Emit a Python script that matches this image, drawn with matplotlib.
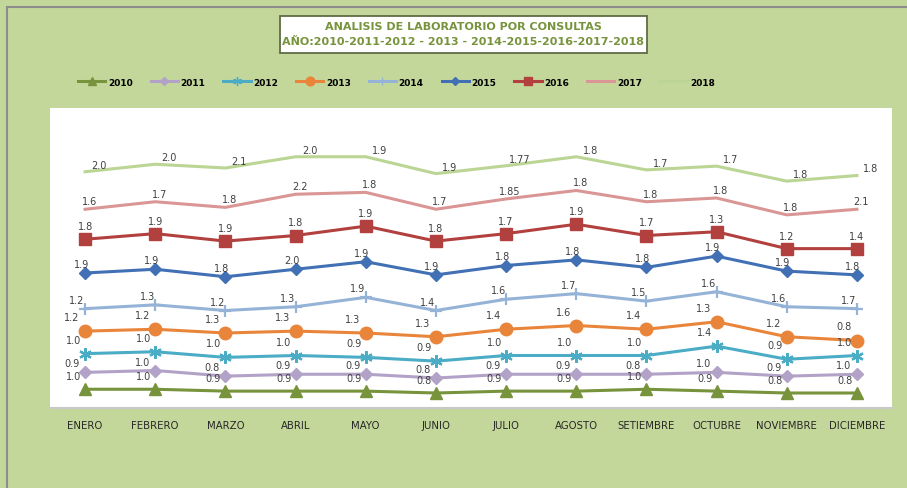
import numpy as np
import matplotlib
matplotlib.use('Agg')
import matplotlib.pyplot as plt
from matplotlib.patches import Rectangle
from matplotlib.lines import Line2D

# categories
months = ['ENERO', 'FEBRERO', 'MARZO', 'ABRIL', 'MAYO', 'JUNIO', 'JULIO',
          'AGOSTO', 'SETIEMBRE', 'OCTUBRE', 'NOVIEMBRE', 'DICIEMBRE']
years = ['2010', '2011', '2012', '2013', '2014', '2015', '2016', '2017', '2018']

# values per year (stacked line chart, labels show each year's own value)
v2010 = [1.0, 1.0, 0.9, 0.9, 0.9, 0.8, 0.9, 0.9, 1.0, 0.9, 0.8, 0.8]
v2011 = [0.9, 1.0, 0.8, 0.9, 0.9, 0.8, 0.9, 0.9, 0.8, 1.0, 0.9, 1.0]
v2012 = [1.0, 1.0, 1.0, 1.0, 0.9, 0.9, 1.0, 1.0, 1.0, 1.4, 0.9, 1.0]
v2013 = [1.2, 1.2, 1.3, 1.3, 1.3, 1.3, 1.4, 1.6, 1.4, 1.3, 1.2, 0.8]
v2014 = [1.2, 1.3, 1.2, 1.3, 1.9, 1.4, 1.6, 1.7, 1.5, 1.6, 1.6, 1.7]
v2015 = [1.9, 1.9, 1.8, 2.0, 1.9, 1.9, 1.8, 1.8, 1.8, 1.9, 1.9, 1.8]
v2016 = [1.8, 1.9, 1.9, 1.8, 1.9, 1.8, 1.7, 1.9, 1.7, 1.3, 1.2, 1.4]
v2017 = [1.6, 1.7, 1.8, 2.2, 1.8, 1.7, 1.85, 1.8, 1.8, 1.8, 1.8, 2.1]
v2018 = [2.0, 2.0, 2.1, 2.0, 1.9, 1.9, 1.77, 1.8, 1.7, 1.7, 1.8, 1.8]

values = np.array([v2010, v2011, v2012, v2013, v2014, v2015, v2016, v2017, v2018])
stacked = np.cumsum(values, axis=0)

# style per series: color, marker, marker size, label offset (px)
styles = [
    ('#77933C', '^', 8, (-12, 13)),
    ('#B3A2C7', 'D', 6, (-13, 9)),
    ('#4BACC6', (6, 2, 0), 9, (-12, 14)),
    ('#E9853A', 'o', 9, (-13, 14)),
    ('#95B3D7', '+', 9, (-8, 9)),
    ('#4270B5', 'D', 6, (-4, 9)),
    ('#B2403E', 's', 8, (0, 13)),
    ('#D99694', None, 0, (4, 8)),
    ('#BBD594', None, 0, (14, 7)),
]

BG = '#C4D79B'
W, H = 907, 489

fig = plt.figure(figsize=(W / 100, H / 100), dpi=100)
fig.patch.set_facecolor(BG)

# outer chart border
fig.patches.append(Rectangle((7 / W, -0.1), 1.2, 1 - 8 / H + 0.1, transform=fig.transFigure,
                             facecolor='none', edgecolor='#8c8c8c', lw=1.5, zorder=0))

ax = fig.add_axes([50 / W, 1 - 409 / H, (892 - 50) / W, (409 - 109) / H])
ax.set_facecolor('white')
x = np.arange(len(months))

for i in range(len(years)):
    color, marker, ms, off = styles[i]
    ax.plot(x, stacked[i], color=color, lw=2.2, marker=marker, markersize=ms,
            markeredgewidth=1.6 if marker in ('+', (6, 2, 0)) else 1,
            markeredgecolor=color, markerfacecolor=color, zorder=3 + i)
    for j in range(len(months)):
        v = values[i][j]
        txt = '%.1f' % v if round(v, 1) == v else '%.2f' % v
        ax.annotate(txt, (x[j], stacked[i][j]), xytext=off, textcoords='offset pixels',
                    ha='center', va='center', fontsize=7, color='#404040', zorder=20)

ax.set_xlim(-0.5, 11.5)
ax.set_ylim(0, 16)
ax.set_yticks([])
ax.set_xticks(x)
ax.set_xticklabels(months, fontsize=7.3, color='#262626')
ax.tick_params(axis='x', length=0, pad=9)
for s in ['top', 'left', 'right']:
    ax.spines[s].set_visible(False)
ax.spines['bottom'].set_color('#c8c8c8')
ax.spines['bottom'].set_linewidth(1.5)

# title box
fig.patches.append(Rectangle((280 / W, 1 - 54 / H), (647 - 280) / W, 37 / H,
                             transform=fig.transFigure, facecolor='white',
                             edgecolor='#5F6B45', lw=1.3, zorder=1))
fig.text(463 / W, 1 - 27 / H, 'ANALISIS DE LABORATORIO POR CONSULTAS', ha='center', va='center',
         fontsize=8, fontweight='bold', color='#77933C', zorder=2)
fig.text(463 / W, 1 - 42 / H, 'AÑO:2010-2011-2012 - 2013 - 2014-2015-2016-2017-2018', ha='center',
         va='center', fontsize=8, fontweight='bold', color='#77933C', zorder=2)

# legend
handles = []
for i in range(len(years)):
    color, marker, ms, off = styles[i]
    handles.append(Line2D([0], [0], color=color, lw=2.2, marker=marker, markersize=ms * 0.7,
                          markeredgecolor=color, markerfacecolor=color))
fig.legend(handles, years, loc='center left', bbox_to_anchor=(70 / W, 1 - 83 / H), ncol=9,
           frameon=False, handlelength=3.0, handletextpad=0.3, columnspacing=2.0,
           prop={'size': 6.5, 'weight': 'bold'})

fig.savefig('out.png', dpi=100, facecolor=BG)
